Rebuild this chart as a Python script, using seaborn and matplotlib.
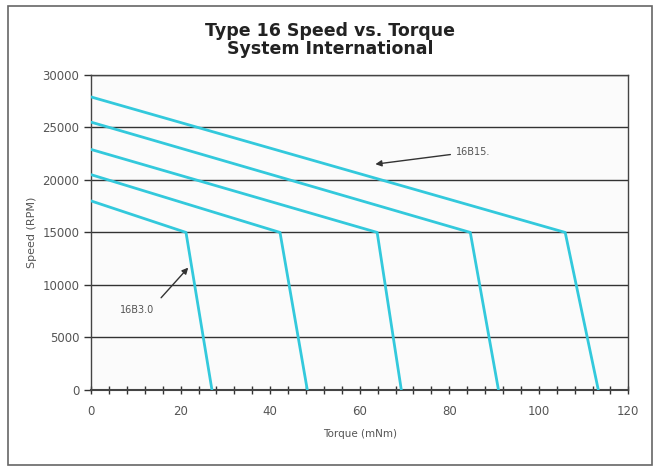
import pandas as pd
import matplotlib.pyplot as plt
import seaborn as sns
from matplotlib.ticker import MultipleLocator
from matplotlib.patches import Rectangle

# Speed/torque curves: no-load speed -> knee at 15000 rpm -> stall
motors = ["16B3.0", "16B6.0", "16B9.0", "16B12.", "16B15."]
no_load_speed = [18000, 20500, 22900, 25500, 27900]
knee_torque = [21.2, 42.2, 63.9, 84.7, 105.9]
knee_speed = [15000, 15000, 15000, 15000, 15000]
stall_torque = [27.0, 48.3, 69.3, 91.0, 113.3]

rows = []
for m, s0, kt, ks, st in zip(motors, no_load_speed, knee_torque, knee_speed, stall_torque):
    rows += [(m, 0, s0), (m, kt, ks), (m, st, 0)]
df = pd.DataFrame(rows, columns=["motor", "torque", "speed"])

sns.set_style("white")
plt.rcParams['font.family'] = ['DejaVu Sans']

fig = plt.figure(figsize=(6.6, 4.71), dpi=100)
ax = fig.add_axes([0.138, 0.172, 0.814, 0.669])
ax.set_facecolor("#fbfbfb")

sns.lineplot(data=df, x="torque", y="speed", hue="motor", units="motor",
             estimator=None, sort=False, palette=["#33c9dc"] * 5,
             linewidth=2.0, legend=False, ax=ax, zorder=3)

ax.set_xlim(0, 120)
ax.set_ylim(0, 30000)
ax.xaxis.set_major_locator(MultipleLocator(20))
ax.xaxis.set_minor_locator(MultipleLocator(4))
ax.yaxis.set_major_locator(MultipleLocator(5000))
ax.yaxis.grid(True, color="#333333", linewidth=1.0)
ax.xaxis.grid(False)
ax.tick_params(axis="x", which="both", direction="inout", length=6, width=1,
               color="#333333", labelsize=8.5, labelcolor="#555555", pad=8,
               bottom=True)
ax.tick_params(axis="y", which="major", direction="out", length=5, width=1,
               color="#333333", labelsize=8.5, labelcolor="#555555", left=True)
for sp in ax.spines.values():
    sp.set_color("#444444")
    sp.set_linewidth(1.0)
ax.spines["bottom"].set_linewidth(1.5)

ax.set_xlabel("Torque (mNm)", fontsize=7.5, color="#555555", labelpad=8)
ax.set_ylabel("Speed (RPM)", fontsize=8, color="#555555", labelpad=4)

fig.text(0.5, 0.915, "Type 16 Speed vs. Torque\nSystem International",
         ha="center", va="center", fontsize=12.5, fontweight="bold",
         color="#222222", linespacing=1.05)

ax.annotate("16B15.", xy=(63.5, 21500), xytext=(81.6, 22700),
            fontsize=7, color="#555555", va="center", ha="left",
            arrowprops=dict(arrowstyle="-|>", color="#333333", lw=1,
                            mutation_scale=9, shrinkA=2, shrinkB=0))
ax.annotate("16B3.0", xy=(21.7, 11650), xytext=(6.5, 7600),
            fontsize=7, color="#555555", va="center", ha="left",
            arrowprops=dict(arrowstyle="-|>", color="#333333", lw=1,
                            mutation_scale=9, shrinkA=4, shrinkB=0,
                            relpos=(1.0, 1.0)))

fig.patches.append(Rectangle((0.012, 0.012), 0.976, 0.975, transform=fig.transFigure,
                             fill=False, edgecolor="#666666", linewidth=1.2))

fig.savefig("out.png", dpi=100)
